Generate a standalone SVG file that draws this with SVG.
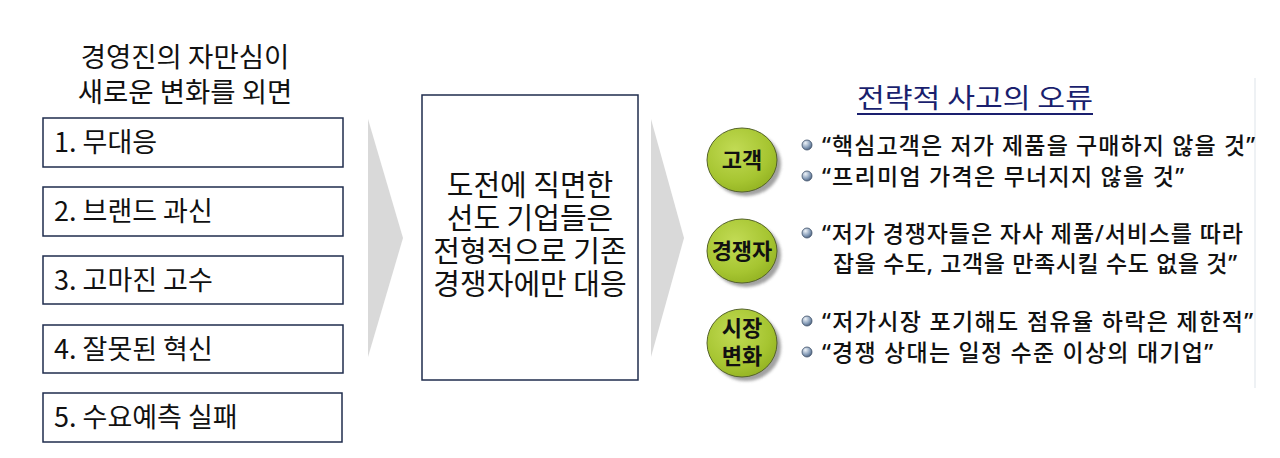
<svg xmlns="http://www.w3.org/2000/svg" width="1280" height="458" viewBox="0 0 1280 458">
  <style>
    .kr { font-family: "Noto Sans CJK KR", "Noto Sans", sans-serif; fill: #111; }
    .box { fill: #fff; stroke: #1f2d4d; stroke-width: 1.5; }
    .lbl { font-size: 27px; }
    .mid { font-size: 29px; text-anchor: middle; }
    .title { font-size: 27.5px; text-anchor: middle; }
    .bul { font-family: "Noto Sans", "Noto Sans CJK KR", sans-serif; font-size: 23px; fill: #111; font-weight: 500; }
    .circ { font-family: "Noto Sans CJK KR", sans-serif; font-size: 22px; font-weight: bold; text-anchor: middle; fill: #111; }
    .chev { fill: #d9d9d9; }
  </style>
  <defs>
    <radialGradient id="gGreen" cx="0.4" cy="0.35" r="0.7">
      <stop offset="0" stop-color="#c2db55"/>
      <stop offset="0.7" stop-color="#a6c531"/>
      <stop offset="1" stop-color="#93b222"/>
    </radialGradient>
    <radialGradient id="gBul" cx="0.35" cy="0.3" r="0.75">
      <stop offset="0" stop-color="#eef3f8"/>
      <stop offset="0.6" stop-color="#8aa0bb"/>
      <stop offset="1" stop-color="#4a5f7c"/>
    </radialGradient>
    <filter id="blur" x="-20%" y="-20%" width="140%" height="140%">
      <feGaussianBlur stdDeviation="1.5"/>
    </filter>
    <symbol id="bullet" overflow="visible">
      <circle cx="0" cy="0" r="5" fill="url(#gBul)" stroke="#3f5068" stroke-width="0.8"/>
    </symbol>
  </defs>
  <rect width="1280" height="458" fill="#fff"/>

  <!-- faint right edge line -->
  <line x1="1255" y1="78" x2="1255" y2="388" stroke="#eef1f4" stroke-width="2"/>

  <g id="left-title">
    <text class="kr title" x="185" y="67">경영진의 자만심이</text>
    <text class="kr title" x="185" y="102">새로운 변화를 외면</text>
  </g>

  <g id="item1">
    <rect class="box" x="43" y="118" width="300" height="49"/>
    <text class="kr lbl" x="54" y="152">1. 무대응</text>
  </g>
  <g id="item2">
    <rect class="box" x="43" y="187" width="300" height="49"/>
    <text class="kr lbl" x="54" y="221">2. 브랜드 과신</text>
  </g>
  <g id="item3">
    <rect class="box" x="43" y="256" width="300" height="48"/>
    <text class="kr lbl" x="54" y="290">3. 고마진 고수</text>
  </g>
  <g id="item4">
    <rect class="box" x="43" y="325" width="300" height="48"/>
    <text class="kr lbl" x="54" y="359">4. 잘못된 혁신</text>
  </g>
  <g id="item5">
    <rect class="box" x="43" y="393" width="299" height="49"/>
    <text class="kr lbl" x="54" y="427">5. 수요예측 실패</text>
  </g>

  <g id="connectors">
    <polygon class="chev" points="368,119 403,238 368,357"/>
    <polygon class="chev" points="651,119 684,238 651,357"/>
  </g>

  <g id="center-box">
    <rect class="box" x="422" y="95" width="216" height="285"/>
    <text class="kr mid" x="530" y="196">도전에 직면한</text>
    <text class="kr mid" x="530" y="229">선도 기업들은</text>
    <text class="kr mid" x="530" y="262">전형적으로 기존</text>
    <text class="kr mid" x="530" y="295">경쟁자에만 대응</text>
  </g>

  <g id="right-title">
    <text class="kr" x="975" y="108" font-size="27" text-anchor="middle" style="fill:#1a1f6e" textLength="236" lengthAdjust="spacingAndGlyphs">전략적 사고의 오류</text>
    <line x1="857" y1="114" x2="1093" y2="114" stroke="#1a1f6e" stroke-width="1.8"/>
  </g>

  <g id="customer">
    <ellipse cx="746" cy="164" rx="35" ry="32" fill="#8a8a8a" opacity="0.8" filter="url(#blur)"/>
    <ellipse cx="742" cy="160" rx="35" ry="32" fill="url(#gGreen)" stroke="#55632a" stroke-width="1"/>
    <text class="circ" x="742" y="168">고객</text>
    <use href="#bullet" x="807" y="145"/>
    <use href="#bullet" x="807" y="176"/>
    <text class="bul" x="822" y="154" textLength="433" lengthAdjust="spacing">“핵심고객은 저가 제품을 구매하지 않을 것”</text>
    <text class="bul" x="822" y="185" textLength="362" lengthAdjust="spacing">“프리미엄 가격은 무너지지 않을 것”</text>
  </g>

  <g id="competitor">
    <ellipse cx="746" cy="255" rx="35" ry="32" fill="#8a8a8a" opacity="0.8" filter="url(#blur)"/>
    <ellipse cx="742" cy="251" rx="35" ry="32" fill="url(#gGreen)" stroke="#55632a" stroke-width="1"/>
    <text class="circ" x="742" y="259">경쟁자</text>
    <use href="#bullet" x="807" y="233"/>
    <text class="bul" x="822" y="242" textLength="421" lengthAdjust="spacing">“저가 경쟁자들은 자사 제품/서비스를 따라</text>
    <text class="bul" x="833" y="272" textLength="404" lengthAdjust="spacing">잡을 수도, 고객을 만족시킬 수도 없을 것”</text>
  </g>

  <g id="market">
    <ellipse cx="746" cy="347" rx="35" ry="34" fill="#8a8a8a" opacity="0.8" filter="url(#blur)"/>
    <ellipse cx="742" cy="343" rx="35" ry="34" fill="url(#gGreen)" stroke="#55632a" stroke-width="1"/>
    <text class="circ" x="742" y="336">시장</text>
    <text class="circ" x="742" y="364">변화</text>
    <use href="#bullet" x="807" y="321"/>
    <use href="#bullet" x="807" y="352"/>
    <text class="bul" x="822" y="330" textLength="431" lengthAdjust="spacing">“저가시장 포기해도 점유율 하락은 제한적”</text>
    <text class="bul" x="822" y="361" textLength="391" lengthAdjust="spacing">“경쟁 상대는 일정 수준 이상의 대기업”</text>
  </g>
</svg>
